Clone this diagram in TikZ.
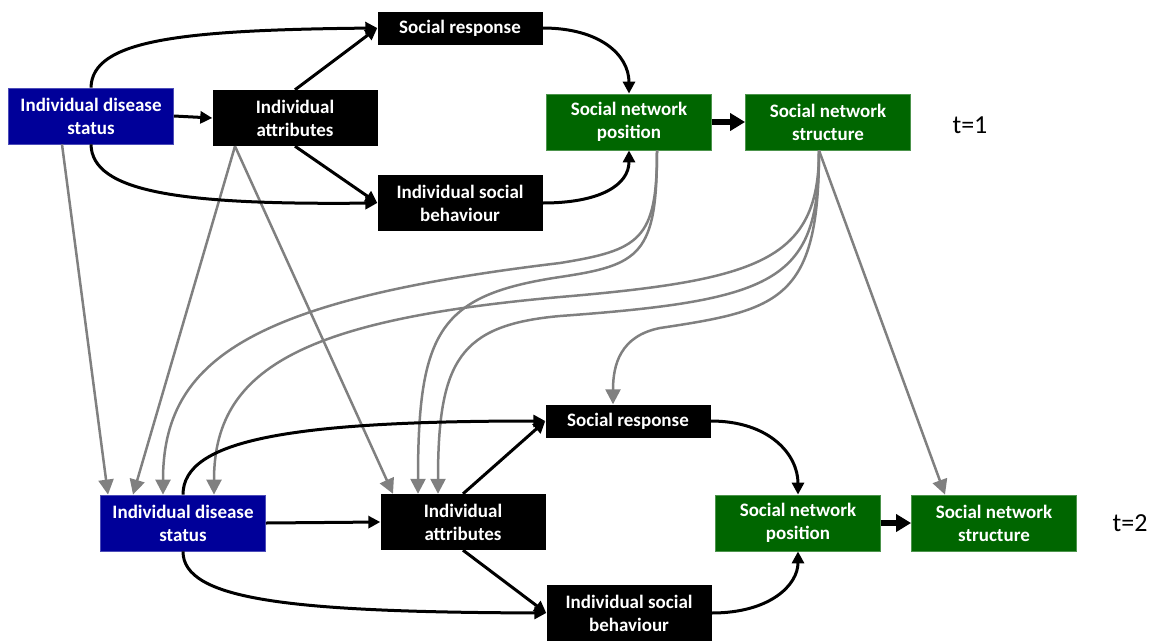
\documentclass[tikz,border=0pt]{standalone}
\usepackage{fontspec}
\setmainfont{Carlito}
\usetikzlibrary{arrows.meta}
\definecolor{dblue}{RGB}{0,0,153}
\definecolor{dgreen}{RGB}{0,102,0}
\definecolor{lgray}{RGB}{128,128,128}
\tikzset{
  box/.style={fill=black, text=white, minimum width=165pt, minimum height=56pt, inner sep=0pt,
    align=center, font=\fontsize{19}{23}\selectfont\bfseries},
  srbox/.style={box, minimum height=33pt},
  bluebox/.style={box, fill=dblue, draw=dblue!70!white, line width=0.8pt},
  greenbox/.style={box, fill=dgreen, draw=dgreen!70!white, line width=0.8pt},
  blk/.style={draw=black, line width=3pt, -{Triangle[length=12pt,width=12pt]}},
  gry/.style={draw=lgray, line width=2.5pt, -{Triangle[length=15pt,width=15pt]}},
  thick arrow/.style={draw=black, line width=6.5pt, -{Triangle[length=15pt,width=17pt]}},
  tlabel/.style={font=\fontsize{26}{30}\selectfont, inner sep=0pt}
}
\begin{document}
\begin{tikzpicture}[x=1pt,y=-1pt]
\useasboundingbox (0,0) rectangle (1149,641);
% t = 1
\node[srbox] (sr1) at (460,28) {Social response};
\node[bluebox] (ids1) at (91,116) {Individual disease\\status};
\node[box] (ia1) at (295,118) {Individual\\attributes};
\node[box] (isb1) at (460,203) {Individual social\\behaviour};
\node[greenbox] (snp1) at (629,122) {Social network\\position};
\node[greenbox] (sns1) at (828,122) {Social network\\structure};
\node[tlabel] (t1) at (970,125) {t=1};
% t = 2
\node[srbox] (sr2) at (628,421) {Social response};
\node[bluebox] (ids2) at (183,523) {Individual disease\\status};
\node[box] (ia2) at (463,522) {Individual\\attributes};
\node[box] (isb2) at (629,613) {Individual social\\behaviour};
\node[greenbox] (snp2) at (798,523) {Social network\\position};
\node[greenbox] (sns2) at (994,523) {Social network\\structure};
\node[tlabel] (t2) at (1130,523) {t=2};

% gray inter-time connectors
\draw[gry] ([xshift=-29pt]ids1.south) -- ([xshift=-75pt]ids2.north);
\draw[gry] ([xshift=-60pt]ia1.south) -- ([xshift=-50pt]ids2.north);
\draw[gry] ([xshift=-60pt]ia1.south) -- ([xshift=-70pt]ia2.north);
\draw[gry] ([xshift=28pt]snp1.south) .. controls (657,240) and (640,250) .. (560,263)
  .. controls (250,300) and (163,360) .. ([xshift=-20pt]ids2.north);
\draw[gry] ([xshift=28pt]snp1.south) .. controls (657,255) and (640,265) .. (560,277)
  .. controls (440,295) and (418,330) .. ([xshift=-45pt]ia2.north);
\draw[gry] ([xshift=-9pt]sns1.south) .. controls (819,260) and (760,280) .. (560,297)
  .. controls (300,320) and (214,370) .. ([xshift=31pt]ids2.north);
\draw[gry] ([xshift=-9pt]sns1.south) .. controls (819,280) and (780,300) .. (560,316)
  .. controls (460,325) and (438,360) .. ([xshift=-25pt]ia2.north);
\draw[gry] ([xshift=-9pt]sns1.south) .. controls (819,300) and (780,310) .. (660,328)
  .. controls (620,336) and (613,365) .. ([xshift=-15pt]sr2.north);
\draw[gry] ([xshift=-9pt]sns1.south) -- ([xshift=-49pt]sns2.north);

% black connectors t=1
\draw[blk] (ids1.north) .. controls (92,40) and (180,30) .. (sr1.west);
\draw[blk] (ids1.south) .. controls (92,192) and (180,205) .. (isb1.west);
\draw[blk] (ids1.east) -- (ia1.west);
\draw[blk] (ia1.north) -- (sr1.west);
\draw[blk] (ia1.south) -- (isb1.west);
\draw[blk] (sr1.east) .. controls (600,28) and (629,55) .. (snp1.north);
\draw[blk] (isb1.east) .. controls (600,203) and (629,185) .. (snp1.south);
\draw[thick arrow] (snp1.east) -- (sns1.west);

% black connectors t=2
\draw[blk] (ids2.north) .. controls (183,440) and (290,421) .. (sr2.west);
\draw[blk] (ids2.south) .. controls (183,600) and (290,612) .. (isb2.west);
\draw[blk] (ids2.east) -- (ia2.west);
\draw[blk] (ia2.north) -- (sr2.west);
\draw[blk] (ia2.south) -- (isb2.west);
\draw[blk] (sr2.east) .. controls (770,421) and (798,455) .. (snp2.north);
\draw[blk] (isb2.east) .. controls (770,613) and (798,585) .. (snp2.south);
\draw[thick arrow] (snp2.east) -- (sns2.west);
\end{tikzpicture}
\end{document}
